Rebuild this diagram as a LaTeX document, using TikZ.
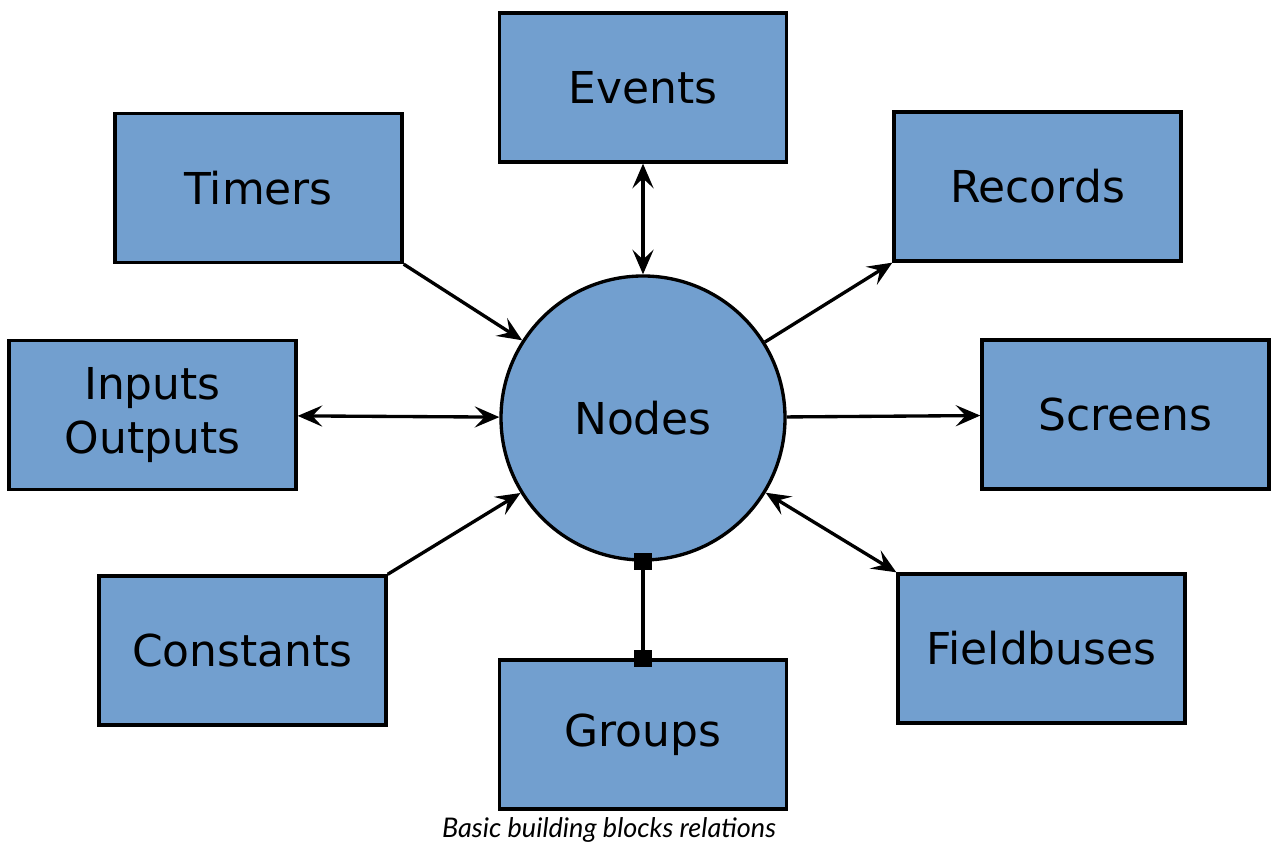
\documentclass[tikz,border=0pt]{standalone}
\usepackage{fontspec}
\setmainfont{DejaVu Sans}
\newfontfamily\capfont{Lato}
\usetikzlibrary{arrows,arrows.meta,positioning}
\definecolor{blkColor}{HTML}{729FCF}
\tikzset{
	blk/.style={draw, fill=blkColor, minimum width=2.87cm, minimum height=1.49cm,
		align=center, font=\fontsize{12.5}{15.6}\selectfont},
	hub/.style={draw, circle, fill=blkColor, minimum size=2.84cm, inner sep=0,
		font=\fontsize{12.5}{15.6}\selectfont},
	sqsq/.style={{Square[length=5pt,width=5pt]}-{Square[length=5pt,width=5pt]},
		shorten <=-2.5pt, shorten >=-2.5pt}
}

\begin{document}
\begin{tikzpicture}[x=0.1mm, y=-0.1mm, line width=0.95pt,
					>={Stealth[length=7pt,width=6pt,inset=2.8pt]}]
					\useasboundingbox (0,0) rectangle (1278,855);
					\node[hub] (nodes) at (643, 418) {Nodes};
					\node[blk] (events) at (643, 87.5) {Events};
					\node[blk] (timers) at (258.5, 188) {Timers};
					\node[blk] (records) at (1037.5, 186.5) {Records};
					\node[blk] (inout) at (152.5, 415) {Inputs\\Outputs};
					\node[blk] (screens) at (1125.5, 414.5) {Screens};
					\node[blk] (consts) at (242.5, 650.5) {Constants};
					\node[blk] (fbus) at (1041.5, 648.5) {Fieldbuses};
					\node[blk] (groups) at (643, 734.5) {Groups};
					\path (events) edge[<->] (nodes);
					\path (timers.south east) edge[->] (nodes);
					\path (nodes) edge[->] (records.south west);
					\path (inout) edge[<->] (nodes);
					\path (nodes) edge[->] (screens);
					\path (consts.north east) edge[->] (nodes);
					\path (nodes) edge[<->] (fbus.north west);
					\path (nodes) edge[sqsq] (groups);
					\node[font=\capfont\itshape\fontsize{7.7}{9}\selectfont] (caption) at (609, 830) {Basic building blocks relations};
				\end{tikzpicture}
\end{document}
